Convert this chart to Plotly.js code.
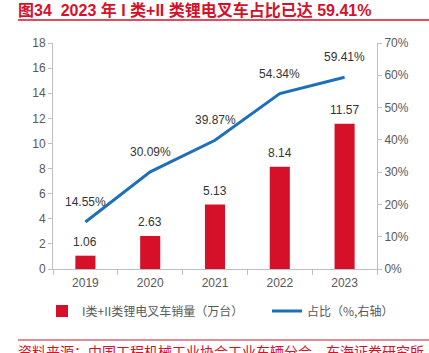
<!DOCTYPE html>
<html><head><meta charset="utf-8">
<script src="https://cdn.plot.ly/plotly-3.0.1.min.js"></script>
<style>html,body{margin:0;padding:0;background:#fff}#c{width:429px;height:353px}</style>
</head><body><div id="c"></div>
<script>
const years = ['2019','2020','2021','2022','2023'];
const sales = [1.06, 2.63, 5.13, 8.14, 11.57];
const share = [14.55, 30.09, 39.87, 54.34, 59.41];
const barName = 'I类+II类锂电叉车销量（万台）';
const lineName = '占比（%,右轴）';
const titleText = '图34  2023 年 I 类+II 类锂电叉车占比已达 59.41%';
const sourceText = '资料来源：中国工程机械工业协会工业车辆分会，东海证券研究所';

const F = '"Liberation Sans", Arial, "Noto Sans CJK SC", sans-serif';
const red = '#D7102A', blue = '#1E6FBA', grey = '#595959', axc = '#BFBFBF';
const PW = 324, PH = 226, L = 53, T = 43;
const px = v => (v - L) / PW;          // page x -> paper x
const py = v => (T + PH - v) / PH;     // page y -> paper y

const ann = [];
years.forEach((y,i)=>{
  ann.push({x:i, y:sales[i], xref:'x', yref:'y', text:sales[i].toFixed(2), showarrow:false, yshift:14, font:{family:F,size:12,color:'#333'}});
  ann.push({x:i, y:share[i], xref:'x', yref:'y2', text:share[i].toFixed(2)+'%', showarrow:false, yshift:20, font:{family:F,size:12,color:'#333'}});
});
ann.push({x:px(16), y:py(10), xref:'paper', yref:'paper', yanchor:'middle', xanchor:'left', text:'<b>'+titleText+'</b>', showarrow:false, font:{family:F, size:16, color:red}});
ann.push({x:px(16), y:py(351), xref:'paper', yref:'paper', yanchor:'middle', xanchor:'left', text:sourceText, showarrow:false, font:{family:'"Noto Sans CJK SC", sans-serif', size:14, color:red}});

const legFont = {family:'"Noto Sans CJK SC", sans-serif', size:12, color:grey};
const layout = {
  width:429, height:353,
  margin:{l:L, r:429-L-PW, t:T, b:353-T-PH, autoexpand:false},
  paper_bgcolor:'#fff', plot_bgcolor:'#fff',
  showlegend:true,
  legend:{orientation:'h', xref:'container', x:42/429, xanchor:'left', yref:'paper', y:py(311), yanchor:'middle', font:legFont},
  legend2:{orientation:'h', xref:'container', x:267/429, xanchor:'left', yref:'paper', y:py(311), yanchor:'middle', font:legFont},
  bargap:0.69,
  xaxis:{type:'category', range:[-0.5,4.5], autorange:false, automargin:false, showline:true, linecolor:axc, ticks:'outside', ticklen:5, tickcolor:axc, tickson:'boundaries', tickangle:0, ticklabelstandoff:3, tickfont:{family:F,size:12,color:grey}, showgrid:false, zeroline:false},
  yaxis:{range:[0,18], autorange:false, automargin:false, dtick:2, showline:true, linecolor:axc, ticks:'outside', ticklen:4, tickcolor:axc, tickfont:{family:F,size:12,color:grey}, showgrid:false, zeroline:false},
  yaxis2:{range:[0,70], autorange:false, automargin:false, dtick:10, overlaying:'y', side:'right', showline:true, linecolor:axc, ticks:'outside', ticklen:4, tickcolor:axc, ticksuffix:'%', tickfont:{family:F,size:12,color:grey}, showgrid:false, zeroline:false},
  annotations:ann,
  shapes:[
    {type:'line', xref:'paper', yref:'paper', x0:px(18), x1:px(429), y0:py(20), y1:py(20), line:{color:red, width:1.5}},
    {type:'line', xref:'paper', yref:'paper', x0:px(18), x1:px(429), y0:py(340), y1:py(340), line:{color:red, width:1}}
  ]
};
const data = [
  {type:'bar', x:years, y:sales, name:barName, marker:{color:red}, yaxis:'y', legend:'legend'},
  {type:'scatter', mode:'lines', x:years, y:share, name:lineName, line:{color:blue, width:3}, yaxis:'y2', legend:'legend2'}
];
Plotly.newPlot('c', data, layout, {displayModeBar:false, staticPlot:true});
</script></body></html>
